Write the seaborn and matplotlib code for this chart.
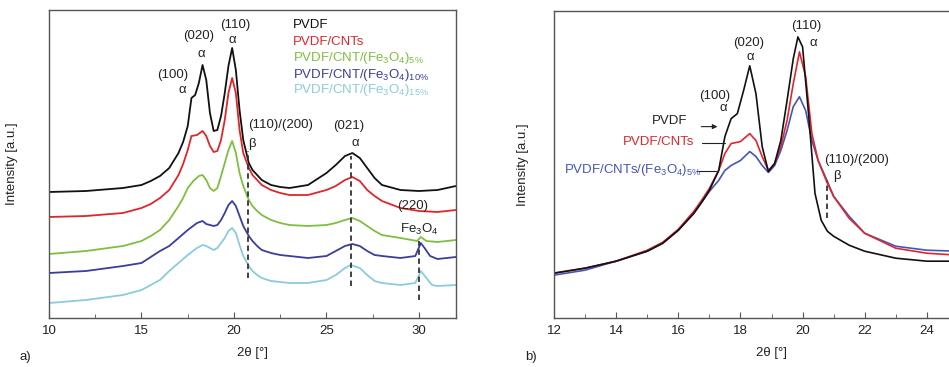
import numpy as np
import pandas as pd
import matplotlib
matplotlib.use("Agg")
import matplotlib.pyplot as plt
import seaborn as sns

# ---------------- data: panel a ----------------
a_labels = ["PVDF", "PVDF/CNTs", "PVDF/CNT/(Fe3O4)5%", "PVDF/CNT/(Fe3O4)10%", "PVDF/CNT/(Fe3O4)15%"]
a_colors = ["#111111", "#e0262b", "#7fbf3f", "#3a3d9e", "#8acbdf"]

a_x_pvdf = [10, 12, 14, 15, 15.5, 16, 16.5, 17, 17.25, 17.5, 17.7, 17.9, 18.1, 18.3, 18.5, 18.7, 18.9, 19.1, 19.3, 19.5,
            19.7, 19.9, 20.1, 20.3, 20.5, 20.8, 21, 21.25, 21.5, 22, 22.5, 23, 24, 25, 25.5, 26, 26.4, 26.8, 27.2, 27.6,
            28, 29, 30, 31, 32]
a_y_pvdf = [126, 127, 130, 133, 137, 142, 150, 165, 176, 192, 220, 223, 235, 253, 238, 205, 187, 188, 202, 225,
            252, 270, 248, 208, 178, 155, 148, 143, 138, 133, 131, 130, 133, 145, 153, 162, 165, 160, 150, 140,
            133, 128, 127, 128, 132]

a_x_cnt = [10, 12, 14, 15, 15.5, 16, 16.5, 17, 17.25, 17.5, 17.7, 18.0, 18.3, 18.5, 18.7, 18.9, 19.1, 19.3, 19.5, 19.7,
           19.9, 20.1, 20.3, 20.5, 20.8, 21, 21.25, 21.5, 22, 22.5, 23, 24, 25, 25.5, 26, 26.4, 26.8, 27.2, 27.6, 28,
           29, 30, 31, 32]
a_y_cnt = [101, 102, 105, 110, 114, 120, 128, 143, 154, 168, 182, 183, 187, 182, 172, 166, 167, 178, 198, 225,
           240, 225, 188, 165, 150, 143, 138, 133, 128, 125, 123, 123, 128, 132, 138, 141, 137, 128, 122, 117,
           110, 107, 106, 108]

a_x_fe5 = [10, 12, 14, 15, 15.5, 16, 16.5, 17, 17.25, 17.5, 17.8, 18.1, 18.3, 18.5, 18.7, 18.9, 19.1, 19.3, 19.5, 19.7,
           19.9, 20.1, 20.3, 20.5, 20.8, 21, 21.25, 21.5, 22, 22.5, 23, 24, 25, 25.5, 26, 26.4, 26.8, 27.2, 27.6, 28,
           29, 29.9, 30.1, 30.4, 31, 32]
a_y_fe5 = [64, 67, 72, 77, 82, 88, 98, 112, 120, 130, 137, 142, 143, 138, 130, 127, 130, 142, 155, 168,
           177, 165, 145, 132, 118, 112, 107, 103, 98, 95, 93, 92, 93, 95, 98, 100, 97, 92, 87, 83,
           80, 77, 81, 77, 76, 78]

a_x_fe10 = [10, 12, 14, 15, 15.5, 16, 16.5, 17, 17.25, 17.5, 18.0, 18.3, 18.5, 18.9, 19.1, 19.3, 19.5, 19.7, 19.9, 20.1,
            20.3, 20.5, 20.8, 21, 21.25, 21.5, 22, 22.5, 23, 24, 25, 25.5, 26, 26.4, 26.8, 27.2, 27.6, 28, 29, 29.8,
            30.1, 30.3, 30.6, 31, 32]
a_y_fe10 = [45, 47, 52, 55, 61, 67, 72, 80, 84, 88, 95, 97, 94, 92, 93, 98, 105, 113, 117, 112,
            102, 92, 82, 77, 72, 68, 65, 63, 62, 60, 62, 67, 72, 74, 72, 67, 63, 62, 60, 62,
            75, 70, 62, 59, 61]

a_x_fe15 = [10, 12, 14, 15, 15.5, 16, 16.5, 17, 17.25, 17.5, 18.0, 18.3, 18.5, 18.9, 19.1, 19.3, 19.5, 19.7, 19.9, 20.1,
            20.3, 20.5, 20.8, 21, 21.25, 21.5, 22, 22.5, 23, 24, 25, 25.5, 26, 26.3, 26.8, 27.2, 27.6, 28, 29, 29.8,
            30.1, 30.4, 30.7, 31, 32]
a_y_fe15 = [15, 18, 23, 28, 33, 38, 47, 55, 59, 63, 70, 73, 72, 68, 70, 75, 80, 87, 90, 85,
            73, 62, 52, 47, 43, 40, 37, 36, 35, 35, 38, 43, 50, 53, 50, 43, 37, 35, 33, 35,
            47, 40, 33, 32, 33]

# ---------------- data: panel b ----------------
b_labels = ["PVDF", "PVDF/CNTs", "PVDF/CNTs/(Fe3O4)5%"]
b_colors = ["#111111", "#e0262b", "#4455bb"]

b_x_pvdf = [12, 13, 14, 15, 15.5, 16, 16.5, 16.75, 17, 17.3, 17.5, 17.7, 17.9, 18.1, 18.3, 18.5, 18.7, 18.9, 19.1, 19.3,
            19.5, 19.7, 19.85, 20.0, 20.2, 20.4, 20.6, 20.8, 21, 21.5, 22, 23, 24, 25, 26]
b_y_pvdf = [45, 50, 57, 67, 75, 88, 105, 116, 128, 148, 182, 200, 205, 228, 253, 225, 172, 147, 155, 178,
            218, 260, 282, 272, 202, 125, 98, 87, 82, 73, 67, 60, 57, 57, 58]

b_x_cnt = [12, 13, 14, 15, 15.5, 16, 16.5, 16.75, 17, 17.3, 17.5, 17.7, 18.0, 18.3, 18.5, 18.7, 18.9, 19.1, 19.3, 19.5,
           19.7, 19.9, 20.1, 20.3, 20.5, 20.8, 21, 21.5, 22, 23, 24, 25, 26]
b_y_cnt = [45, 50, 57, 68, 76, 89, 107, 118, 130, 148, 165, 175, 177, 185, 178, 162, 148, 155, 172, 198,
           235, 267, 242, 185, 158, 135, 122, 100, 85, 70, 65, 63, 63]

b_x_fe5 = b_x_cnt
b_y_fe5 = [43, 48, 57, 67, 75, 88, 105, 116, 127, 138, 148, 153, 158, 167, 162, 153, 146, 153, 168, 188,
           212, 222, 208, 178, 158, 137, 122, 102, 85, 72, 68, 67, 67]

# ---------------- figure ----------------
sns.set_style("ticks")
plt.rcParams["font.family"] = ["Liberation Sans", "DejaVu Sans"]
plt.rcParams["mathtext.fontset"] = "custom"
plt.rcParams["mathtext.rm"] = "Liberation Sans"
plt.rcParams["mathtext.it"] = "Liberation Sans:italic"
plt.rcParams["mathtext.bf"] = "Liberation Sans:bold"

TXT = "#222222"
FS = 9.5

fig = plt.figure(figsize=(9.49, 3.67), dpi=100)
axa = fig.add_axes([49 / 949, 49 / 367, 407 / 949, 308 / 367])
axb = fig.add_axes([554 / 949, 49 / 367, 435 / 949, 307 / 367])

def long_df(xs, ys, labels):
    frames = []
    for x, y, lab in zip(xs, ys, labels):
        frames.append(pd.DataFrame({"x": x, "y": y, "series": lab}))
    return pd.concat(frames, ignore_index=True)

dfa = long_df([a_x_pvdf, a_x_cnt, a_x_fe5, a_x_fe10, a_x_fe15],
              [a_y_pvdf, a_y_cnt, a_y_fe5, a_y_fe10, a_y_fe15], a_labels)
dfb = long_df([b_x_pvdf, b_x_cnt, b_x_fe5], [b_y_pvdf, b_y_cnt, b_y_fe5], b_labels)

sns.lineplot(data=dfa, x="x", y="y", hue="series", palette=dict(zip(a_labels, a_colors)),
             sort=False, estimator=None, legend=False, lw=1.3, ax=axa)
sns.lineplot(data=dfb[dfb.series != "PVDF"], x="x", y="y", hue="series",
             palette=dict(zip(b_labels, b_colors)), hue_order=b_labels[::-1],
             sort=False, estimator=None, legend=False, lw=1.2, ax=axb)
sns.lineplot(data=dfb[dfb.series == "PVDF"], x="x", y="y", color=b_colors[0],
             sort=False, estimator=None, legend=False, lw=1.2, ax=axb)

for ax in (axa, axb):
    ax.set_ylim(0, 308)
    ax.set_yticks([])
    for s in ax.spines.values():
        s.set_color("#555555")
        s.set_linewidth(1.0)
    ax.tick_params(axis="x", which="both", direction="in", colors="#555555",
                   labelcolor=TXT, labelsize=FS, pad=5)
    ax.tick_params(axis="x", which="major", length=4)
    ax.tick_params(axis="x", which="minor", length=3)
    ax.set_xlabel("2θ [°]", fontsize=FS, color=TXT, labelpad=7)

axa.set_xlim(10, 32)
axa.set_xticks([10, 15, 20, 25, 30])
axa.set_xticks(np.arange(12.5, 32, 5), minor=True)
axa.set_ylabel("Intensity [a.u.]", fontsize=FS, color=TXT, labelpad=22)

axb.set_xlim(12, 26)
axb.set_xticks([12, 14, 16, 18, 20, 22, 24])
axb.set_xticks(np.arange(13, 26, 2), minor=True)
axb.set_ylabel("Intensity [a.u.]", fontsize=FS, color=TXT, labelpad=18)

def lab(ax, x, y, s, color=TXT, ha="center", fs=FS):
    ax.text(x, y, s, ha=ha, va="center", fontsize=fs, color=color)

# panel a annotations
lab(axa, 16.7, 243, "(100)")
lab(axa, 17.2, 228, "α")
lab(axa, 18.1, 282, "(020)")
lab(axa, 18.23, 264, "α")
lab(axa, 20.05, 293, "(110)")
lab(axa, 19.9, 278, "α")
lab(axa, 22.5, 193, "(110)/(200)")
lab(axa, 20.97, 174, "β")
lab(axa, 26.2, 192, "(021)")
lab(axa, 26.57, 175, "α")
lab(axa, 29.67, 112, "(220)")
lab(axa, 30.0, 89, "Fe$_3$O$_4$")

axa.plot([20.75, 20.75], [40, 167], ls=(0, (3, 2)), color="#333333", lw=1.3)
axa.plot([26.3, 26.3], [32, 162], ls=(0, (3, 2)), color="#333333", lw=1.3)
axa.plot([30.0, 30.0], [18, 77], ls=(0, (3, 2)), color="#333333", lw=1.3)

leg_texts = ["PVDF", "PVDF/CNTs", "PVDF/CNT/(Fe$_3$O$_4$)$_{5\\%}$",
             "PVDF/CNT/(Fe$_3$O$_4$)$_{10\\%}$", "PVDF/CNT/(Fe$_3$O$_4$)$_{15\\%}$"]
leg_y = [293, 276, 260, 243, 228]
for t, yy, c in zip(leg_texts, leg_y, a_colors):
    lab(axa, 23.2, yy, t, color=c, ha="left")

# panel b annotations
lab(axb, 20.13, 293, "(110)")
lab(axb, 20.35, 276, "α")
lab(axb, 18.26, 276, "(020)")
lab(axb, 18.31, 262, "α")
lab(axb, 17.18, 223, "(100)")
lab(axb, 17.45, 211, "α")
lab(axb, 21.75, 159, "(110)/(200)")
lab(axb, 21.1, 142, "β")
axb.plot([20.8, 20.8], [100, 137], ls=(0, (3, 2)), color="#333333", lw=1.3)

lab(axb, 15.73, 198, "PVDF")
axb.annotate("", xy=(17.35, 192), xytext=(16.65, 192),
             arrowprops=dict(arrowstyle="-|>", color="#222222", lw=0.8, mutation_scale=7))
lab(axb, 15.36, 177, "PVDF/CNTs", color=b_colors[1])
axb.plot([16.75, 17.5], [176, 176], color="#222222", lw=0.8)
lab(axb, 14.55, 148, "PVDF/CNTs/(Fe$_3$O$_4$)$_{5\\%}$", color=b_colors[2])
axb.plot([16.6, 17.2], [147, 147], color="#222222", lw=0.8)

fig.text(20 / 949, 1 - 357 / 367, "a)", fontsize=FS, color=TXT, ha="left", va="center")
fig.text(525 / 949, 1 - 357 / 367, "b)", fontsize=FS, color=TXT, ha="left", va="center")

fig.savefig("out.png", dpi=100)
